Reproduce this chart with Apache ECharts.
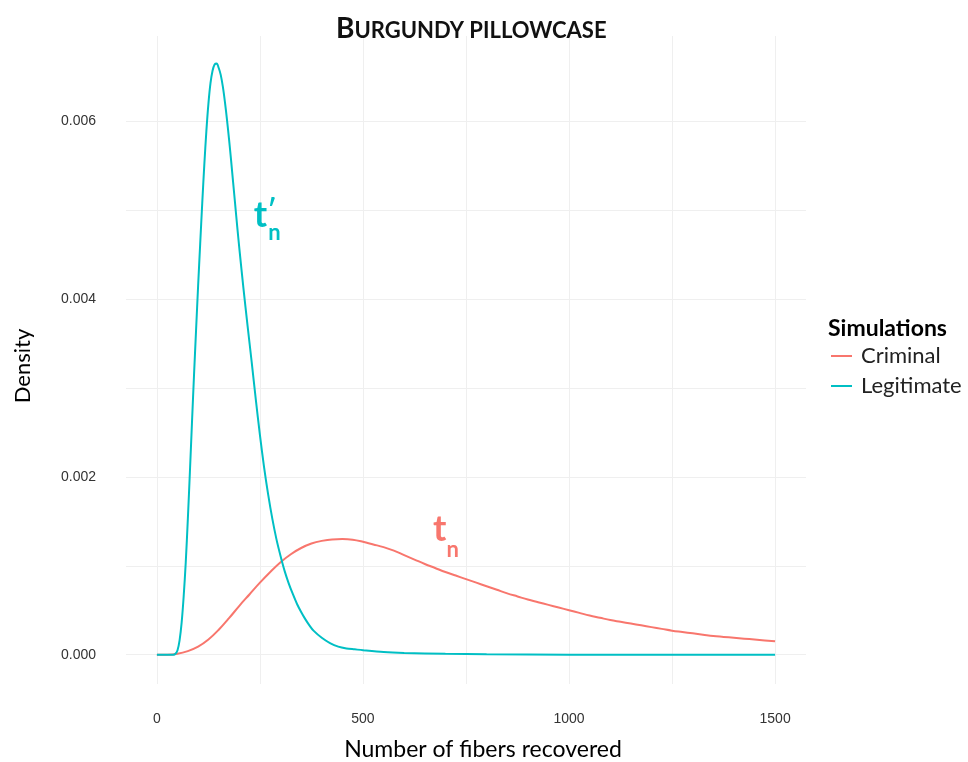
<!DOCTYPE html>
<html>
<head>
<meta charset="utf-8">
<script src="https://cdn.jsdelivr.net/npm/echarts@6/dist/echarts.min.js"></script>
<style>html,body{margin:0;padding:0;background:#fff}#c{width:968px;height:762px}</style>
</head>
<body>
<div id="c"></div>
<script>
// Criminal (t_n) density curve
const criminalX = [0,25,50,75,100,125,150,175,200,225,250,275,300,325,350,375,400,425,450,475,500,525,550,575,600,625,650,675,700,725,750,775,800,825,850,875,900,925,950,975,1000,1025,1050,1075,1100,1125,1150,1175,1200,1225,1250,1275,1300,1325,1350,1375,1400,1425,1450,1475,1500];
const criminalY = [0,0,0.00001,0.00004,0.00009,0.00017,0.00028,0.00041,0.00055,0.00068,0.00081,0.00093,0.00104,0.00113,0.00120,0.00125,0.00128,0.001297,0.00130,0.001293,0.00127,0.00124,0.00121,0.00117,0.00112,0.00107,0.00102,0.000975,0.00093,0.00089,0.00085,0.00081,0.00077,0.00073,0.00069,0.000655,0.00062,0.00059,0.00056,0.00053,0.00050,0.00047,0.00044,0.000415,0.00039,0.00037,0.00035,0.00033,0.00031,0.00029,0.00027,0.000255,0.00024,0.000225,0.00021,0.0002,0.00019,0.00018,0.00017,0.00016,0.00015];
// Legitimate (t'_n) density curve
const legitX = [0,20,40,45,50,55,60,65,70,75,80,85,90,95,100,105,110,115,120,125,130,135,140,145,150,155,160,165,170,175,180,185,190,195,200,210,220,230,240,250,260,270,280,290,300,310,320,330,340,350,360,370,380,400,420,440,460,480,500,550,600,700,800,1000,1250,1500];
const legitY = [0,0,0,0.00001,0.00005,0.00016,0.00036,0.00066,0.00104,0.00152,0.00205,0.00260,0.00314,0.00365,0.00415,0.00462,0.00508,0.00551,0.00589,0.00620,0.00643,0.00657,0.00664,0.00665,0.00660,0.00652,0.00639,0.00622,0.00602,0.00580,0.00556,0.00531,0.00506,0.00481,0.00457,0.00412,0.00370,0.00329,0.00287,0.00247,0.00211,0.00180,0.00153,0.00130,0.00111,0.00094,0.00080,0.00068,0.00057,0.00048,0.00040,0.00033,0.00027,0.00019,0.00013,0.00009,0.00007,0.00006,0.00005,0.00003,0.00002,0.00001,0.000005,0,0,0];
// ticks
const xGridValues = [0,250,500,750,1000,1250,1500];
const xTickLabels = [0,500,1000,1500];
const yGridValues = [0,0.001,0.002,0.003,0.004,0.005,0.006];
const yTickLabels = [0,0.002,0.004,0.006];
const seriesNames = ['Criminal','Legitimate'];
const colors = ['#F8766D','#00BFC4'];
// annotation anchors (data space)
const annCriminal = {t:[686,0.00141], n:[718,0.00118]};
const annLegit = {t:[251,0.00494], p:[279,0.00500], n:[285,0.00474]};

const chart = echarts.init(document.getElementById('c'), null, {renderer:'canvas'});
const toPairs = (xs, ys) => xs.map((x,i)=>[x, ys[i]]);
function ann(coord, text, color, size) {
  return {coord: coord, value: text, symbol:'circle', symbolSize:1, itemStyle:{color:'rgba(0,0,0,0)'},
    label:{show:true, position:'inside', formatter:text, color:color, fontSize:size, fontWeight:'bold', fontFamily:'Lato'}};
}
const option = {
  animation:false,
  backgroundColor:'#fff',
  title:[{
    text:'{a|B}{b|URGUNDY PILLOWCASE}',
    left:331, top:10,
    textStyle:{rich:{
      a:{fontSize:28,fontWeight:'bold',fontFamily:'Lato',color:'#111'},
      b:{fontSize:22,fontWeight:'bold',fontFamily:'Lato',color:'#111',verticalAlign:'bottom',padding:[0,0,1,0]}
    }}
  },{
    text:'Simulations', left:823, top:312,
    textStyle:{fontSize:23,fontWeight:'bold',fontFamily:'Lato',color:'#000'}
  }],
  legend:{
    orient:'vertical', left:826, top:340,
    data:seriesNames, icon:'rect', itemWidth:21, itemHeight:2, itemGap:8,
    textStyle:{fontSize:22,fontFamily:'Lato',color:'#222',padding:[0,0,0,4]}
  },
  grid:{left:126,right:162,top:36,bottom:78,outerBoundsMode:'none',containLabel:false},
  xAxis:{
    type:'value', min:-75, max:1575,
    name:'Number of fibers recovered', nameLocation:'middle', nameGap:54,
    nameTextStyle:{fontSize:23,fontFamily:'Lato',color:'#000',padding:[0,0,0,34]},
    axisLine:{show:false},
    axisTick:{show:false, customValues:xGridValues},
    axisLabel:{customValues:xTickLabels, margin:28, fontSize:14, fontFamily:'Liberation Sans', color:'#333',
      formatter:v=>String(v)},
    splitLine:{show:true, lineStyle:{color:'#efefef', width:1}}
  },
  yAxis:{
    type:'value', min:-0.00033, max:0.00696,
    name:'Density', nameLocation:'middle', nameGap:92, nameRotate:90,
    nameTextStyle:{fontSize:22,fontFamily:'Lato',color:'#000',padding:[0,12,0,0]},
    axisLine:{show:false},
    axisTick:{show:false, customValues:yGridValues},
    axisLabel:{customValues:yTickLabels, margin:30, fontSize:14, fontFamily:'Liberation Sans', color:'#333',
      formatter:v=>v.toFixed(3)},
    splitLine:{show:true, lineStyle:{color:'#efefef', width:1}}
  },
  series:[{
    name:seriesNames[0], type:'line', data:toPairs(criminalX, criminalY),
    smooth:0.4, showSymbol:false, symbol:'none', color:colors[0],
    lineStyle:{width:2, color:colors[0]},
    markPoint:{silent:true, data:[
      ann(annCriminal.t,'t',colors[0],36), ann(annCriminal.n,'n',colors[0],22)
    ]}
  },{
    name:seriesNames[1], type:'line', data:toPairs(legitX, legitY),
    smooth:0.3, showSymbol:false, symbol:'none', color:colors[1],
    lineStyle:{width:2, color:colors[1]},
    markPoint:{silent:true, data:[
      ann(annLegit.t,'t',colors[1],36), ann(annLegit.p,'′',colors[1],26), ann(annLegit.n,'n',colors[1],22)
    ]}
  }]
};
chart.setOption(option);
</script>
</body>
</html>
